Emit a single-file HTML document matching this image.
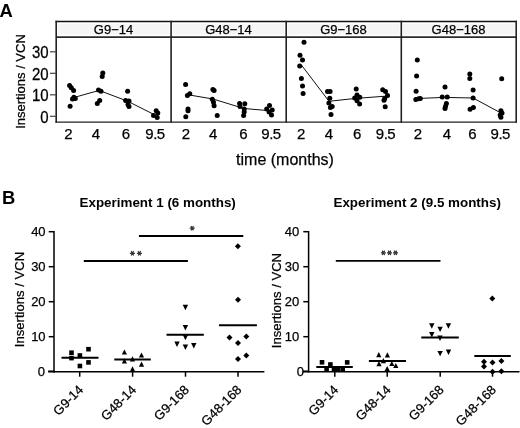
<!DOCTYPE html>
<html><head><meta charset="utf-8"><style>
html,body{margin:0;padding:0;background:#fff;}
svg{display:block;font-family:"Liberation Sans", sans-serif;filter:grayscale(100%);}
text{stroke:#000;stroke-width:0.25px;}
text[font-weight=bold]{stroke-width:0;}
</style></head><body>
<svg width="520" height="428" viewBox="0 0 520 428" fill="#000">
<rect width="520" height="428" fill="#fff"/>
<text x="-0.6" y="16.9" font-size="18.4" font-weight="bold">A</text>
<rect x="57.8" y="24.1" width="111.6" height="10.4" fill="#f5f5f5"/>
<rect x="172.8" y="24.1" width="111.6" height="10.4" fill="#f5f5f5"/>
<rect x="287.8" y="24.1" width="111.6" height="10.4" fill="#f5f5f5"/>
<rect x="402.8" y="24.1" width="111.6" height="10.4" fill="#f5f5f5"/>
<text x="113.5" y="33.5" font-size="13" text-anchor="middle">G9−14</text>
<text x="228.5" y="33.5" font-size="13" text-anchor="middle">G48−14</text>
<text x="343.5" y="33.5" font-size="13" text-anchor="middle">G9−168</text>
<text x="458.5" y="33.5" font-size="13" text-anchor="middle">G48−168</text>
<line x1="55.5" y1="21.4" x2="516.9000000000001" y2="21.4" stroke="#111" stroke-width="1.5"/>
<line x1="56.2" y1="37.1" x2="516.2" y2="37.1" stroke="#2a2a2a" stroke-width="1.8"/>
<line x1="55.5" y1="122.1" x2="516.9000000000001" y2="122.1" stroke="#222" stroke-width="1.4"/>
<line x1="56.2" y1="20.7" x2="56.2" y2="122.8" stroke="#222" stroke-width="1.6"/>
<line x1="171.1" y1="20.7" x2="171.1" y2="122.8" stroke="#222" stroke-width="1.6"/>
<line x1="286.2" y1="20.7" x2="286.2" y2="122.8" stroke="#222" stroke-width="1.6"/>
<line x1="401.3" y1="20.7" x2="401.3" y2="122.8" stroke="#222" stroke-width="1.6"/>
<line x1="516.2" y1="20.7" x2="516.2" y2="122.8" stroke="#222" stroke-width="1.6"/>
<line x1="50" y1="116.3" x2="56" y2="116.3" stroke="#444" stroke-width="1.2"/>
<text transform="translate(48.7,122.5) scale(1,1.1)" font-size="15" text-anchor="end">0</text>
<line x1="50" y1="94.8" x2="56" y2="94.8" stroke="#444" stroke-width="1.2"/>
<text transform="translate(48.7,101.0) scale(1,1.1)" font-size="15" text-anchor="end">10</text>
<line x1="50" y1="73.3" x2="56" y2="73.3" stroke="#444" stroke-width="1.2"/>
<text transform="translate(48.7,79.5) scale(1,1.1)" font-size="15" text-anchor="end">20</text>
<line x1="50" y1="51.8" x2="56" y2="51.8" stroke="#444" stroke-width="1.2"/>
<text transform="translate(48.7,58.0) scale(1,1.1)" font-size="15" text-anchor="end">30</text>
<text x="68.50" y="139.4" font-size="15" text-anchor="middle">2</text>
<text x="96.00" y="139.4" font-size="15" text-anchor="middle">4</text>
<text x="125.80" y="139.4" font-size="15" text-anchor="middle">6</text>
<text x="155.05" y="139.4" font-size="15" text-anchor="middle" letter-spacing="-0.5">9.5</text>
<text x="186.00" y="139.4" font-size="15" text-anchor="middle">2</text>
<text x="213.10" y="139.4" font-size="15" text-anchor="middle">4</text>
<text x="243.50" y="139.4" font-size="15" text-anchor="middle">6</text>
<text x="271.05" y="139.4" font-size="15" text-anchor="middle" letter-spacing="-0.5">9.5</text>
<text x="301.20" y="139.4" font-size="15" text-anchor="middle">2</text>
<text x="329.00" y="139.4" font-size="15" text-anchor="middle">4</text>
<text x="357.20" y="139.4" font-size="15" text-anchor="middle">6</text>
<text x="385.55" y="139.4" font-size="15" text-anchor="middle" letter-spacing="-0.5">9.5</text>
<text x="417.90" y="139.4" font-size="15" text-anchor="middle">2</text>
<text x="447.00" y="139.4" font-size="15" text-anchor="middle">4</text>
<text x="472.50" y="139.4" font-size="15" text-anchor="middle">6</text>
<text x="500.25" y="139.4" font-size="15" text-anchor="middle" letter-spacing="-0.5">9.5</text>
<text x="285" y="164.6" font-size="16" text-anchor="middle">time (months)</text>
<text transform="translate(24.6,81.5) rotate(-90)" font-size="13" text-anchor="middle">Insertions / VCN</text>
<polyline points="75,97.2 99.2,90.4 127.8,101.3 155,115" fill="none" stroke="#111" stroke-width="1"/>
<polyline points="189.5,95 213,99 244,108.5 267,110.5" fill="none" stroke="#111" stroke-width="1"/>
<polyline points="301.4,65 329,101.3 354.5,98.5 385.2,96.2" fill="none" stroke="#111" stroke-width="1"/>
<polyline points="419.5,98.4 444.7,97.4 473.1,98 500,112.5" fill="none" stroke="#111" stroke-width="1"/>
<circle cx="69.6" cy="85.5" r="2.5" fill="#000"/>
<circle cx="71.3" cy="87.7" r="2.5" fill="#000"/>
<circle cx="73.6" cy="90.4" r="2.5" fill="#000"/>
<circle cx="72.5" cy="98.9" r="2.5" fill="#000"/>
<circle cx="75.3" cy="98.4" r="2.5" fill="#000"/>
<circle cx="73.9" cy="97.2" r="2.5" fill="#000"/>
<circle cx="70.1" cy="106.3" r="2.5" fill="#000"/>
<circle cx="102.8" cy="73" r="2.5" fill="#000"/>
<circle cx="102.2" cy="76.5" r="2.5" fill="#000"/>
<circle cx="98.5" cy="90" r="2.5" fill="#000"/>
<circle cx="101" cy="91.3" r="2.5" fill="#000"/>
<circle cx="99.7" cy="100.4" r="2.5" fill="#000"/>
<circle cx="97.3" cy="103.4" r="2.5" fill="#000"/>
<circle cx="127.6" cy="91.3" r="2.5" fill="#000"/>
<circle cx="125.6" cy="100.4" r="2.5" fill="#000"/>
<circle cx="129" cy="101" r="2.5" fill="#000"/>
<circle cx="128" cy="104.6" r="2.5" fill="#000"/>
<circle cx="129" cy="106.4" r="2.5" fill="#000"/>
<circle cx="156.2" cy="110.7" r="2.5" fill="#000"/>
<circle cx="157.8" cy="113" r="2.5" fill="#000"/>
<circle cx="153.5" cy="115.5" r="2.5" fill="#000"/>
<circle cx="157.2" cy="117.4" r="2.5" fill="#000"/>
<circle cx="185.6" cy="84.6" r="2.5" fill="#000"/>
<circle cx="187.4" cy="95.5" r="2.5" fill="#000"/>
<circle cx="189.8" cy="93.7" r="2.5" fill="#000"/>
<circle cx="188" cy="108.9" r="2.5" fill="#000"/>
<circle cx="188" cy="110.7" r="2.5" fill="#000"/>
<circle cx="185.8" cy="116.8" r="2.5" fill="#000"/>
<circle cx="212.9" cy="89.4" r="2.5" fill="#000"/>
<circle cx="214.1" cy="90.6" r="2.5" fill="#000"/>
<circle cx="212.3" cy="99.2" r="2.5" fill="#000"/>
<circle cx="213.5" cy="102.2" r="2.5" fill="#000"/>
<circle cx="214.1" cy="105.8" r="2.5" fill="#000"/>
<circle cx="217.2" cy="115.5" r="2.5" fill="#000"/>
<circle cx="239.6" cy="103.4" r="2.5" fill="#000"/>
<circle cx="244.8" cy="103.8" r="2.5" fill="#000"/>
<circle cx="240" cy="106.4" r="2.5" fill="#000"/>
<circle cx="244.2" cy="108.9" r="2.5" fill="#000"/>
<circle cx="244.2" cy="111.9" r="2.5" fill="#000"/>
<circle cx="243.6" cy="115.5" r="2.5" fill="#000"/>
<circle cx="269.5" cy="105.5" r="2.5" fill="#000"/>
<circle cx="266.7" cy="108.9" r="2.5" fill="#000"/>
<circle cx="272.2" cy="110.1" r="2.5" fill="#000"/>
<circle cx="269.1" cy="111.9" r="2.5" fill="#000"/>
<circle cx="271.5" cy="115" r="2.5" fill="#000"/>
<circle cx="304" cy="42.3" r="2.5" fill="#000"/>
<circle cx="300" cy="55.2" r="2.5" fill="#000"/>
<circle cx="302.5" cy="60.1" r="2.5" fill="#000"/>
<circle cx="299.7" cy="66" r="2.5" fill="#000"/>
<circle cx="301.4" cy="78.4" r="2.5" fill="#000"/>
<circle cx="302.5" cy="86.1" r="2.5" fill="#000"/>
<circle cx="303.1" cy="93.4" r="2.5" fill="#000"/>
<circle cx="327.5" cy="91.5" r="2.5" fill="#000"/>
<circle cx="330.1" cy="91.5" r="2.5" fill="#000"/>
<circle cx="329.8" cy="98.2" r="2.5" fill="#000"/>
<circle cx="328.9" cy="103.1" r="2.5" fill="#000"/>
<circle cx="330.4" cy="107.5" r="2.5" fill="#000"/>
<circle cx="332.2" cy="106.5" r="2.5" fill="#000"/>
<circle cx="331" cy="114.6" r="2.5" fill="#000"/>
<circle cx="356.2" cy="89" r="2.5" fill="#000"/>
<circle cx="357" cy="95" r="2.5" fill="#000"/>
<circle cx="354.7" cy="97.9" r="2.5" fill="#000"/>
<circle cx="359.8" cy="97.3" r="2.5" fill="#000"/>
<circle cx="357" cy="100.8" r="2.5" fill="#000"/>
<circle cx="359.6" cy="104" r="2.5" fill="#000"/>
<circle cx="382.7" cy="89.8" r="2.5" fill="#000"/>
<circle cx="385.5" cy="91.5" r="2.5" fill="#000"/>
<circle cx="387.5" cy="95.6" r="2.5" fill="#000"/>
<circle cx="384.7" cy="98.5" r="2.5" fill="#000"/>
<circle cx="384" cy="100.2" r="2.5" fill="#000"/>
<circle cx="385.2" cy="106.8" r="2.5" fill="#000"/>
<circle cx="417.3" cy="60.1" r="2.5" fill="#000"/>
<circle cx="416.6" cy="76" r="2.5" fill="#000"/>
<circle cx="416.1" cy="91.2" r="2.5" fill="#000"/>
<circle cx="415.8" cy="99.6" r="2.5" fill="#000"/>
<circle cx="418.6" cy="98.7" r="2.5" fill="#000"/>
<circle cx="420.3" cy="98.4" r="2.5" fill="#000"/>
<circle cx="445" cy="87" r="2.5" fill="#000"/>
<circle cx="442.2" cy="97.1" r="2.5" fill="#000"/>
<circle cx="447.2" cy="97.1" r="2.5" fill="#000"/>
<circle cx="446.4" cy="103.4" r="2.5" fill="#000"/>
<circle cx="445.5" cy="106.3" r="2.5" fill="#000"/>
<circle cx="445" cy="108.5" r="2.5" fill="#000"/>
<circle cx="469.8" cy="74.1" r="2.5" fill="#000"/>
<circle cx="469.8" cy="78.6" r="2.5" fill="#000"/>
<circle cx="473.1" cy="90.1" r="2.5" fill="#000"/>
<circle cx="473.1" cy="98" r="2.5" fill="#000"/>
<circle cx="470.1" cy="109.3" r="2.5" fill="#000"/>
<circle cx="473.4" cy="107.5" r="2.5" fill="#000"/>
<circle cx="501.7" cy="78.8" r="2.5" fill="#000"/>
<circle cx="500.9" cy="110.7" r="2.5" fill="#000"/>
<circle cx="502" cy="112.9" r="2.5" fill="#000"/>
<circle cx="500.2" cy="115.1" r="2.5" fill="#000"/>
<circle cx="500.9" cy="117.2" r="2.5" fill="#000"/>
<text x="2" y="203.7" font-size="18.4" font-weight="bold">B</text>
<text x="157.7" y="206.8" font-size="13.4" font-weight="bold" text-anchor="middle">Experiment 1 (6 months)</text>
<line x1="54" y1="231.0" x2="54" y2="372.4" stroke="#000" stroke-width="1.5"/>
<line x1="54" y1="371.7" x2="264.4" y2="371.7" stroke="#000" stroke-width="1.5"/>
<line x1="48.1" y1="371.5" x2="54.5" y2="371.5" stroke="#000" stroke-width="2.1"/>
<text x="45" y="376.3" font-size="13" text-anchor="end">0</text>
<line x1="48.7" y1="336.7" x2="54" y2="336.7" stroke="#000" stroke-width="1.5"/>
<text x="45.6" y="341.3" font-size="13" text-anchor="end">10</text>
<line x1="48.7" y1="301.7" x2="54" y2="301.7" stroke="#000" stroke-width="1.5"/>
<text x="45.6" y="306.3" font-size="13" text-anchor="end">20</text>
<line x1="48.7" y1="266.7" x2="54" y2="266.7" stroke="#000" stroke-width="1.5"/>
<text x="45.6" y="271.3" font-size="13" text-anchor="end">30</text>
<line x1="48.7" y1="231.7" x2="54" y2="231.7" stroke="#000" stroke-width="1.5"/>
<text x="45.6" y="236.29999999999998" font-size="13" text-anchor="end">40</text>
<line x1="79.7" y1="371.7" x2="79.7" y2="376.7" stroke="#000" stroke-width="1.5"/>
<line x1="132.6" y1="371.7" x2="132.6" y2="376.7" stroke="#000" stroke-width="1.5"/>
<line x1="185.5" y1="371.7" x2="185.5" y2="376.7" stroke="#000" stroke-width="1.5"/>
<line x1="238" y1="371.7" x2="238" y2="376.7" stroke="#000" stroke-width="1.5"/>
<text transform="translate(84.10000000000001,390.6) rotate(-45)" font-size="13" text-anchor="end">G9-14</text>
<text transform="translate(137.0,390.6) rotate(-45)" font-size="13" text-anchor="end">G48-14</text>
<text transform="translate(189.9,390.6) rotate(-45)" font-size="13" text-anchor="end">G9-168</text>
<text transform="translate(242.4,390.6) rotate(-45)" font-size="13" text-anchor="end">G48-168</text>
<text transform="translate(24.4,299.5) rotate(-90)" font-size="13.1" text-anchor="middle">Insertions / VCN</text>
<text x="417.2" y="206.8" font-size="13.4" font-weight="bold" text-anchor="middle">Experiment 2 (9.5 months)</text>
<line x1="308.6" y1="231.0" x2="308.6" y2="372.4" stroke="#000" stroke-width="1.5"/>
<line x1="308.6" y1="371.7" x2="519.5" y2="371.7" stroke="#000" stroke-width="1.5"/>
<line x1="302.70000000000005" y1="371.5" x2="309.1" y2="371.5" stroke="#000" stroke-width="2.1"/>
<text x="304" y="376.3" font-size="13" text-anchor="end">0</text>
<line x1="303.3" y1="336.7" x2="308.6" y2="336.7" stroke="#000" stroke-width="1.5"/>
<text x="299.3" y="341.3" font-size="13" text-anchor="end">10</text>
<line x1="303.3" y1="301.7" x2="308.6" y2="301.7" stroke="#000" stroke-width="1.5"/>
<text x="299.3" y="306.3" font-size="13" text-anchor="end">20</text>
<line x1="303.3" y1="266.7" x2="308.6" y2="266.7" stroke="#000" stroke-width="1.5"/>
<text x="299.3" y="271.3" font-size="13" text-anchor="end">30</text>
<line x1="303.3" y1="231.7" x2="308.6" y2="231.7" stroke="#000" stroke-width="1.5"/>
<text x="299.3" y="236.29999999999998" font-size="13" text-anchor="end">40</text>
<line x1="334.8" y1="371.7" x2="334.8" y2="376.7" stroke="#000" stroke-width="1.5"/>
<line x1="387.2" y1="371.7" x2="387.2" y2="376.7" stroke="#000" stroke-width="1.5"/>
<line x1="440.2" y1="371.7" x2="440.2" y2="376.7" stroke="#000" stroke-width="1.5"/>
<line x1="492.5" y1="371.7" x2="492.5" y2="376.7" stroke="#000" stroke-width="1.5"/>
<text transform="translate(339.2,390.6) rotate(-45)" font-size="13" text-anchor="end">G9-14</text>
<text transform="translate(391.59999999999997,390.6) rotate(-45)" font-size="13" text-anchor="end">G48-14</text>
<text transform="translate(444.59999999999997,390.6) rotate(-45)" font-size="13" text-anchor="end">G9-168</text>
<text transform="translate(496.9,390.6) rotate(-45)" font-size="13" text-anchor="end">G48-168</text>
<text transform="translate(281,300.6) rotate(-90)" font-size="13.1" text-anchor="middle">Insertions / VCN</text>
<rect x="69.20" y="350.40" width="4.6" height="4.6" fill="#000"/>
<rect x="69.20" y="355.80" width="4.6" height="4.6" fill="#000"/>
<rect x="77.60" y="353.20" width="4.6" height="4.6" fill="#000"/>
<rect x="77.60" y="363.70" width="4.6" height="4.6" fill="#000"/>
<rect x="86.20" y="346.90" width="4.6" height="4.6" fill="#000"/>
<rect x="86.20" y="360.10" width="4.6" height="4.6" fill="#000"/>
<line x1="61.5" y1="357.8" x2="98.5" y2="357.8" stroke="#000" stroke-width="2"/>
<polygon points="121.80,354.60 127.00,354.60 124.40,349.40" fill="#000"/>
<polygon points="121.80,363.40 127.00,363.40 124.40,358.20" fill="#000"/>
<polygon points="129.90,361.40 135.10,361.40 132.50,356.20" fill="#000"/>
<polygon points="129.90,371.40 135.10,371.40 132.50,366.20" fill="#000"/>
<polygon points="138.90,357.60 144.10,357.60 141.50,352.40" fill="#000"/>
<polygon points="138.90,366.80 144.10,366.80 141.50,361.60" fill="#000"/>
<line x1="114.3" y1="359.4" x2="150.8" y2="359.4" stroke="#000" stroke-width="2"/>
<polygon points="182.70,304.80 188.10,304.80 185.40,310.20" fill="#000"/>
<polygon points="182.70,325.00 188.10,325.00 185.40,330.40" fill="#000"/>
<polygon points="182.70,334.80 188.10,334.80 185.40,340.20" fill="#000"/>
<polygon points="174.30,341.50 179.70,341.50 177.00,346.90" fill="#000"/>
<polygon points="182.70,344.50 188.10,344.50 185.40,349.90" fill="#000"/>
<polygon points="191.10,343.00 196.50,343.00 193.80,348.40" fill="#000"/>
<line x1="166.5" y1="334.8" x2="203.8" y2="334.8" stroke="#000" stroke-width="2"/>
<polygon points="237.90,243.20 240.90,246.20 237.90,249.20 234.90,246.20" fill="#000"/>
<polygon points="238.00,296.70 241.00,299.70 238.00,302.70 235.00,299.70" fill="#000"/>
<polygon points="229.50,334.50 232.50,337.50 229.50,340.50 226.50,337.50" fill="#000"/>
<polygon points="246.30,333.50 249.30,336.50 246.30,339.50 243.30,336.50" fill="#000"/>
<polygon points="238.00,340.10 241.00,343.10 238.00,346.10 235.00,343.10" fill="#000"/>
<polygon points="246.30,352.50 249.30,355.50 246.30,358.50 243.30,355.50" fill="#000"/>
<polygon points="238.00,355.90 241.00,358.90 238.00,361.90 235.00,358.90" fill="#000"/>
<line x1="219" y1="325.3" x2="256.9" y2="325.3" stroke="#000" stroke-width="2"/>
<line x1="83.8" y1="261" x2="187.9" y2="261" stroke="#000" stroke-width="1.8"/>
<line x1="138.9" y1="236" x2="243.3" y2="236" stroke="#000" stroke-width="1.8"/>
<path d="M129.90,253.30L134.90,253.30M131.15,251.13L133.65,255.47M133.65,251.13L131.15,255.47" stroke="#333" stroke-width="1.2" fill="none"/>
<path d="M136.90,253.30L141.90,253.30M138.15,251.13L140.65,255.47M140.65,251.13L138.15,255.47" stroke="#333" stroke-width="1.2" fill="none"/>
<path d="M189.70,228.20L194.70,228.20M190.95,226.03L193.45,230.37M193.45,226.03L190.95,230.37" stroke="#333" stroke-width="1.2" fill="none"/>
<rect x="319.70" y="360.00" width="4.6" height="4.6" fill="#000"/>
<rect x="328.10" y="362.20" width="4.6" height="4.6" fill="#000"/>
<rect x="344.90" y="360.10" width="4.6" height="4.6" fill="#000"/>
<rect x="324.30" y="366.90" width="4.6" height="4.6" fill="#000"/>
<rect x="331.70" y="366.90" width="4.6" height="4.6" fill="#000"/>
<rect x="335.70" y="366.90" width="4.6" height="4.6" fill="#000"/>
<rect x="340.40" y="366.90" width="4.6" height="4.6" fill="#000"/>
<line x1="316.3" y1="367.1" x2="352.8" y2="367.1" stroke="#000" stroke-width="2"/>
<polygon points="376.20,357.20 381.40,357.20 378.80,352.00" fill="#000"/>
<polygon points="384.80,357.40 390.00,357.40 387.40,352.20" fill="#000"/>
<polygon points="380.80,363.20 386.00,363.20 383.40,358.00" fill="#000"/>
<polygon points="376.40,366.30 381.60,366.30 379.00,361.10" fill="#000"/>
<polygon points="389.20,366.10 394.40,366.10 391.80,360.90" fill="#000"/>
<polygon points="393.20,368.10 398.40,368.10 395.80,362.90" fill="#000"/>
<polygon points="384.60,371.10 389.80,371.10 387.20,365.90" fill="#000"/>
<line x1="368.9" y1="360.9" x2="406" y2="360.9" stroke="#000" stroke-width="2"/>
<polygon points="429.10,323.30 434.50,323.30 431.80,328.70" fill="#000"/>
<polygon points="445.70,323.30 451.10,323.30 448.40,328.70" fill="#000"/>
<polygon points="437.40,326.70 442.80,326.70 440.10,332.10" fill="#000"/>
<polygon points="429.10,332.10 434.50,332.10 431.80,337.50" fill="#000"/>
<polygon points="437.30,335.60 442.70,335.60 440.00,341.00" fill="#000"/>
<polygon points="437.40,350.90 442.80,350.90 440.10,356.30" fill="#000"/>
<polygon points="445.80,349.50 451.20,349.50 448.50,354.90" fill="#000"/>
<line x1="421.3" y1="337.6" x2="458.8" y2="337.6" stroke="#000" stroke-width="2"/>
<polygon points="492.30,295.40 495.30,298.40 492.30,301.40 489.30,298.40" fill="#000"/>
<polygon points="484.00,358.80 487.00,361.80 484.00,364.80 481.00,361.80" fill="#000"/>
<polygon points="484.00,363.40 487.00,366.40 484.00,369.40 481.00,366.40" fill="#000"/>
<polygon points="492.50,359.50 495.50,362.50 492.50,365.50 489.50,362.50" fill="#000"/>
<polygon points="501.40,357.90 504.40,360.90 501.40,363.90 498.40,360.90" fill="#000"/>
<polygon points="492.50,368.80 495.50,371.80 492.50,374.80 489.50,371.80" fill="#000"/>
<polygon points="501.40,368.30 504.40,371.30 501.40,374.30 498.40,371.30" fill="#000"/>
<line x1="474.3" y1="356" x2="510.8" y2="356" stroke="#000" stroke-width="2"/>
<line x1="335.8" y1="260.9" x2="440.5" y2="260.9" stroke="#000" stroke-width="1.8"/>
<path d="M380.90,252.80L385.90,252.80M382.15,250.63L384.65,254.97M384.65,250.63L382.15,254.97" stroke="#333" stroke-width="1.2" fill="none"/>
<path d="M387.00,252.80L392.00,252.80M388.25,250.63L390.75,254.97M390.75,250.63L388.25,254.97" stroke="#333" stroke-width="1.2" fill="none"/>
<path d="M393.00,252.80L398.00,252.80M394.25,250.63L396.75,254.97M396.75,250.63L394.25,254.97" stroke="#333" stroke-width="1.2" fill="none"/>
</svg>
</body></html>
